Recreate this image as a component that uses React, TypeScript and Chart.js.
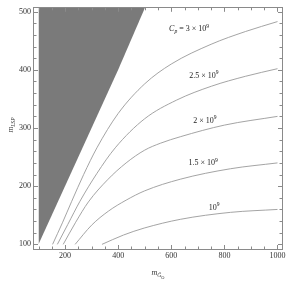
import { useEffect, useRef } from 'react';
import { Chart, registerables } from 'chart.js';

Chart.register(...registerables);

// ---- data ----
const X_TICKS = [200, 400, 600, 800, 1000];
const Y_TICKS = [100, 200, 300, 400, 500];

// forbidden region boundary (m_LSP > m_GO)
const DARK_X = [100, 400, 500];
const DARK_Y = [100, 400, 506];

// C_p = 3e9
const C3_X = [153, 190, 225, 270, 320, 400, 500, 600, 750, 880, 1000];
const C3_Y = [100, 137, 174, 220, 266, 325, 376, 410, 444, 466, 483];
// C_p = 2.5e9
const C25_X = [171, 210, 256, 320, 389, 500, 620, 752, 880, 1000];
const C25_Y = [100, 134, 174, 222, 266, 316, 348, 372, 389, 402];
// C_p = 2e9
const C2_X = [193, 240, 288, 360, 430, 500, 560, 634, 800, 1000];
const C2_Y = [100, 138, 173, 211, 240, 262, 274, 285, 305, 320];
// C_p = 1.5e9
const C15_X = [238, 300, 363, 430, 500, 634, 823, 1000];
const C15_Y = [100, 133, 157, 176, 192, 212, 230, 240];
// C_p = 1e9
const C1_X = [339, 420, 498, 634, 823, 1000];
const C1_Y = [100, 116, 128, 143, 155, 160];

const CURVES_X = [C3_X, C25_X, C2_X, C15_X, C1_X];
const CURVES_Y = [C3_Y, C25_Y, C2_Y, C15_Y, C1_Y];

type Seg = { t: string; it?: boolean; d?: 'sub' | 'sup' | 'subsub' };

const CURVE_LABELS: Seg[][] = [
  [{ t: 'C', it: true }, { t: 'p', it: true, d: 'sub' }, { t: ' = 3 × 10' }, { t: '9', d: 'sup' }],
  [{ t: '2.5 × 10' }, { t: '9', d: 'sup' }],
  [{ t: '2 × 10' }, { t: '9', d: 'sup' }],
  [{ t: '1.5 × 10' }, { t: '9', d: 'sup' }],
  [{ t: '10' }, { t: '9', d: 'sup' }],
];
// label anchors in data coordinates
const LABEL_AT = [
  { x: 667, y: 471 },
  { x: 723, y: 391 },
  { x: 727, y: 314 },
  { x: 720, y: 241 },
  { x: 761, y: 164 },
];

const X_TITLE: Seg[] = [{ t: 'm', it: true }, { t: 'G̃', it: true, d: 'sub' }, { t: 'O', d: 'subsub' }];
const Y_TITLE: Seg[] = [{ t: 'm', it: true }, { t: 'LSP', it: true, d: 'sub' }];

const FONT = '"Liberation Serif", "DejaVu Serif", serif';

function segFont(s: Seg, size: number) {
  const sz = s.d === 'subsub' ? size * 0.55 : s.d ? size * 0.7 : size;
  return `${s.it ? 'italic ' : ''}${sz}px ${FONT}`;
}
function segDy(s: Seg, size: number) {
  if (s.d === 'sub') return size * 0.28;
  if (s.d === 'subsub') return size * 0.5;
  if (s.d === 'sup') return -size * 0.42;
  return 0;
}
function drawRich(ctx: CanvasRenderingContext2D, segs: Seg[], cx: number, cy: number, size: number) {
  let w = 0;
  for (const s of segs) {
    ctx.font = segFont(s, size);
    w += ctx.measureText(s.t).width;
  }
  let x = cx - w / 2;
  ctx.textBaseline = 'alphabetic';
  ctx.textAlign = 'left';
  for (const s of segs) {
    ctx.font = segFont(s, size);
    ctx.fillText(s.t, x, cy + size * 0.33 + segDy(s, size));
    x += ctx.measureText(s.t).width;
  }
}

const framePlugin = {
  id: 'frameTicks',
  afterDraw(chart: any) {
    const ctx: CanvasRenderingContext2D = chart.ctx;
    const { left, right, top, bottom } = chart.chartArea;
    const xs = chart.scales.x;
    const ys = chart.scales.y;
    ctx.save();
    ctx.strokeStyle = '#8a8a8a';
    ctx.lineWidth = 1;
    ctx.strokeRect(Math.round(left) - 0.5, Math.round(top) - 0.5, Math.round(right - left) + 1, Math.round(bottom - top) + 1);
    ctx.beginPath();
    const xTick = (v: number, len: number) => {
      const p = Math.round(xs.getPixelForValue(v)) + 0.5;
      ctx.moveTo(p, bottom);
      ctx.lineTo(p, bottom - len);
      ctx.moveTo(p, top);
      ctx.lineTo(p, top + len);
    };
    const yTick = (v: number, len: number) => {
      const p = Math.round(ys.getPixelForValue(v)) + 0.5;
      ctx.moveTo(left, p);
      ctx.lineTo(left + len, p);
      ctx.moveTo(right, p);
      ctx.lineTo(right - len, p);
    };
    for (let v = 100; v <= 1000; v += 50) xTick(v, X_TICKS.includes(v) ? 4 : 2.5);
    for (let v = 100; v <= 500; v += 20) yTick(v, Y_TICKS.includes(v) ? 4 : 2.5);
    ctx.stroke();

    ctx.fillStyle = '#222';
    CURVE_LABELS.forEach((segs, i) => {
      drawRich(ctx, segs, xs.getPixelForValue(LABEL_AT[i].x), ys.getPixelForValue(LABEL_AT[i].y), 8);
    });

    ctx.fillStyle = '#333';
    drawRich(ctx, X_TITLE, 158, 272, 8);
    ctx.save();
    ctx.translate(10, 125);
    ctx.rotate(-Math.PI / 2);
    drawRich(ctx, Y_TITLE, 0, 0, 8);
    ctx.restore();
    ctx.restore();
  },
};

export default function App() {
  const ref = useRef<HTMLCanvasElement>(null);
  useEffect(() => {
    if (!ref.current) return;
    const curveSets = CURVES_X.map((xsArr, i) => ({
      data: xsArr.map((x, j) => ({ x, y: CURVES_Y[i][j] })),
      showLine: true,
      borderColor: '#9a9a9a',
      borderWidth: 0.9,
      pointRadius: 0,
      cubicInterpolationMode: 'monotone' as const,
      fill: false,
    }));
    const chart = new Chart(ref.current, {
      type: 'scatter',
      data: {
        datasets: [
          {
            data: DARK_X.map((x, j) => ({ x, y: DARK_Y[j] })),
            showLine: true,
            borderWidth: 0,
            borderColor: 'rgba(0,0,0,0)',
            backgroundColor: '#7a7a7a',
            pointRadius: 0,
            fill: 'end',
          } as any,
          ...curveSets,
        ],
      },
      options: {
        animation: false,
        responsive: false,
        devicePixelRatio: 1,
        layout: { padding: { top: 1, right: 7, left: 0, bottom: 0 } },
        plugins: { legend: { display: false }, tooltip: { enabled: false } },
        scales: {
          x: {
            type: 'linear',
            min: 83,
            max: 1017,
            grid: { display: false, drawTicks: false },
            border: { display: false },
            ticks: {
              color: '#333',
              font: { family: FONT, size: 8 },
              padding: 2,
              maxRotation: 0,
              callback: (v: any) => String(v),
            },
            afterBuildTicks: (s: any) => {
              s.ticks = X_TICKS.map((v) => ({ value: v }));
            },
            afterFit: (s: any) => {
              s.height = 36;
            },
          },
          y: {
            type: 'linear',
            min: 92,
            max: 506.7,
            grid: { display: false, drawTicks: false },
            border: { display: false },
            ticks: {
              color: '#333',
              font: { family: FONT, size: 8 },
              padding: 3,
              callback: (v: any) => String(v),
            },
            afterBuildTicks: (s: any) => {
              s.ticks = Y_TICKS.map((v) => ({ value: v }));
            },
            afterFit: (s: any) => {
              s.width = 34;
            },
          },
        },
      },
      plugins: [framePlugin],
    });
    return () => chart.destroy();
  }, []);
  return (
    <div style={{ position: 'absolute', left: 0, top: 0, width: 289, height: 285, background: '#fff' }}>
      <canvas ref={ref} width={289} height={285} style={{ display: 'block' }} />
    </div>
  );
}
